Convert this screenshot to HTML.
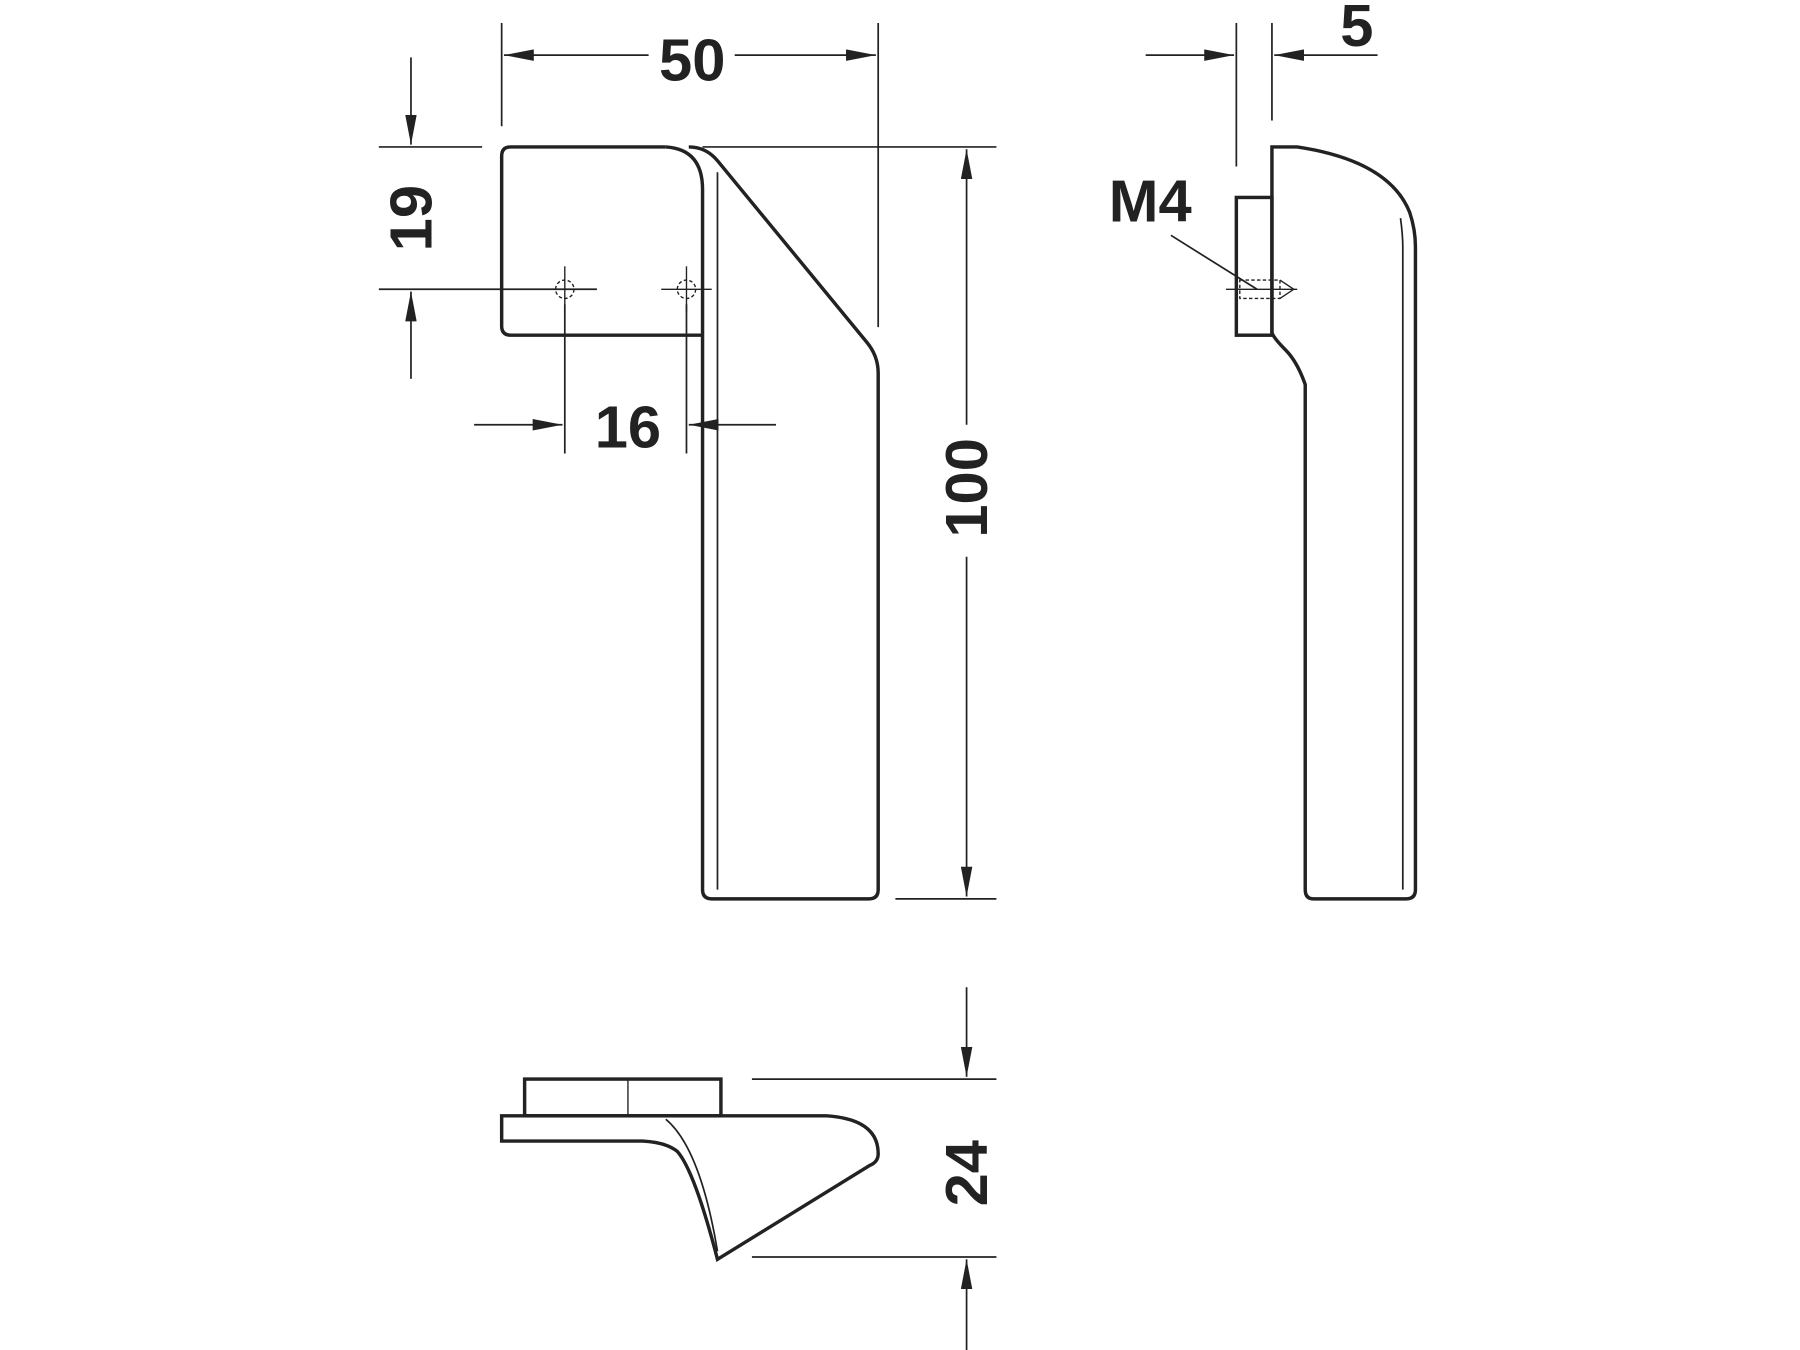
<!DOCTYPE html>
<html><head><meta charset="utf-8"><style>
html,body{margin:0;padding:0;background:#fff;width:1800px;height:1350px;overflow:hidden}
svg{display:block}
text{font-family:"Liberation Sans",sans-serif;font-weight:bold;font-size:52px;fill:#222}
</style></head><body>
<svg width="1800" height="1350" viewBox="0 0 1568 1176" xmlns="http://www.w3.org/2000/svg">
<defs>
<marker id="a" markerWidth="26" markerHeight="10" refX="26" refY="5" orient="auto" markerUnits="userSpaceOnUse">
<path d="M0,0 L26,5 L0,10 Z" fill="#222"/></marker>
</defs>
<g stroke="#222" fill="none" stroke-width="1.5">
<line x1="437" y1="20" x2="437" y2="110"/>
<line x1="765" y1="20" x2="765" y2="285"/>
<line x1="565" y1="48" x2="439" y2="48" marker-end="url(#a)"/>
<line x1="640" y1="48" x2="763" y2="48" marker-end="url(#a)"/>
<line x1="330" y1="128" x2="420" y2="128"/>
<line x1="330" y1="252" x2="520" y2="252"/>
<line x1="358" y1="50" x2="358" y2="126" marker-end="url(#a)"/>
<line x1="358" y1="330" x2="358" y2="254" marker-end="url(#a)"/>
<line x1="492" y1="265" x2="492" y2="395"/>
<line x1="598" y1="265" x2="598" y2="395"/>
<line x1="413" y1="370" x2="490" y2="370" marker-end="url(#a)"/>
<line x1="676" y1="370" x2="600" y2="370" marker-end="url(#a)"/>
<line x1="612" y1="128" x2="868" y2="128"/>
<line x1="780" y1="783" x2="868" y2="783"/>
<line x1="842" y1="370" x2="842" y2="130" marker-end="url(#a)"/>
<line x1="842" y1="485" x2="842" y2="781" marker-end="url(#a)"/>
<line x1="1077" y1="20" x2="1077" y2="145"/>
<line x1="1108" y1="20" x2="1108" y2="105"/>
<line x1="998" y1="48" x2="1075" y2="48" marker-end="url(#a)"/>
<line x1="1200" y1="48" x2="1110" y2="48" marker-end="url(#a)"/>
<line x1="655" y1="940" x2="868" y2="940"/>
<line x1="655" y1="1095" x2="868" y2="1095"/>
<line x1="842" y1="860" x2="842" y2="938" marker-end="url(#a)"/>
<line x1="842" y1="1176" x2="842" y2="1097" marker-end="url(#a)"/>
<line x1="1020" y1="205" x2="1095" y2="252"/>
</g>
<g stroke="#222" fill="none" stroke-width="3">
<path d="M612,292 L445,292 Q437,292 437,284 L437,136 Q437,128 445,128 L580,128"/>
<path d="M580,128 Q612,130 612,165 L612,775 Q612,783 620,783 L757,783 Q765,783 765,775 L765,325 Q765,310 755,298 L625,140 Q615,128 600,128"/>
<line x1="625" y1="150" x2="625" y2="775" stroke-width="1.5"/>
<path d="M1108,290 L1108,128 L1130,128 Q1210,140 1228,185 Q1233,200 1233,215 L1233,775 Q1233,783 1225,783 L1144,783 Q1137,783 1137,775 L1137,365 L1137,335 Q1130,315 1120,305 Q1110,295 1108,290"/>
<rect x="1077" y="172" width="31" height="120"/>
<path d="M1220,190 Q1222,205 1222,215 L1222,775" stroke-width="1.5"/>
<rect x="457" y="940" width="171" height="32"/>
<path d="M437,972 L720,972 Q765,975 765,1005 Q765,1012 758,1015 L625,1097 Q605,1020 590,1003 Q580,995 560,994 L437,994 Z"/>
<path d="M580,975 Q610,1000 625,1090" stroke-width="1.5"/>
</g>
<g stroke="#222" fill="none" stroke-width="1.2">
<line x1="547" y1="940" x2="547" y2="972"/>
<circle cx="492" cy="252" r="8" stroke-dasharray="3,2"/>
<circle cx="598" cy="252" r="8" stroke-dasharray="3,2"/>
<line x1="470" y1="252" x2="514" y2="252"/><line x1="492" y1="232" x2="492" y2="272"/>
<line x1="576" y1="252" x2="620" y2="252"/><line x1="598" y1="232" x2="598" y2="272"/>
<rect x="1080" y="244" width="35" height="16" stroke-dasharray="3,2"/>
<path d="M1115,244 L1127,252 L1115,260"/>
<line x1="1068" y1="252" x2="1130" y2="252"/>
</g>
<text x="603" y="70" text-anchor="middle">50</text>
<text x="547" y="390" text-anchor="middle">16</text>
<text x="1182" y="40" text-anchor="middle">5</text>
<text x="1002" y="193" text-anchor="middle">M4</text>
<text transform="translate(376,190) rotate(-90)" text-anchor="middle">19</text>
<text transform="translate(860,425) rotate(-90)" text-anchor="middle">100</text>
<text transform="translate(860,1022) rotate(-90)" text-anchor="middle">24</text>
</svg>
</body></html>
